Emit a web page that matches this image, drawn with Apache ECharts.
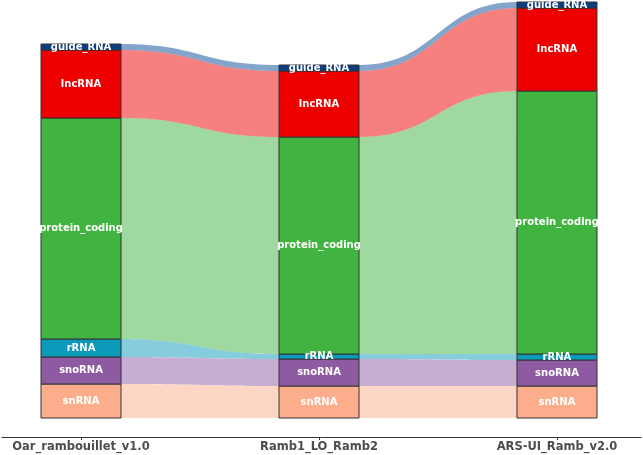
<!DOCTYPE html>
<html>
<head>
<meta charset="utf-8">
<style>html,body{margin:0;padding:0;background:#fff;}#main{width:643px;height:455px;}</style>
<script src="https://cdn.jsdelivr.net/npm/echarts@6/dist/echarts.min.js"></script>
</head>
<body>
<div id="main"></div>
<script>
// Categories (assemblies) and biotypes (stacked from bottom to top)
const categories = ['Oar_rambouillet_v1.0', 'Ramb1_LO_Ramb2', 'ARS-UI_Ramb_v2.0'];
const biotypes = ['snRNA', 'snoRNA', 'rRNA', 'protein_coding', 'lncRNA', 'guide_RNA'];
// Gene counts per biotype
const snRNA = [3400, 3200, 3200];
const snoRNA = [2700, 2700, 2600];
const rRNA = [1800, 500, 600];
const proteinCoding = [22100, 21700, 26300];
const lncRNA = [6800, 6600, 8300];
const guideRNA = [600, 600, 600];

const values = [snRNA, snoRNA, rRNA, proteinCoding, lncRNA, guideRNA];
const colors = ['#fcae8c', '#8e5ba3', '#0b9ab9', '#41b340', '#ee0000', '#0d3f80'];
const ribbonColors = ['rgba(252,174,140,0.5)', 'rgba(142,91,163,0.5)', 'rgba(11,154,185,0.5)',
  'rgba(65,179,64,0.5)', 'rgba(238,0,0,0.5)', 'rgba(30,90,160,0.55)'];

// cumulative bounds
function bounds(col, k) {
  let b = 0;
  for (let i = 0; i < k; i++) b += values[i][col];
  return [b, b + values[k][col]];
}

const BAR_W = 80;

const barData = [];
const ribbonData = [];
for (let c = 0; c < categories.length; c++) {
  for (let k = 0; k < biotypes.length; k++) {
    barData.push([c + 1, k]);
    if (c < categories.length - 1) ribbonData.push([c + 1, k]);
  }
}

const chart = echarts.init(document.getElementById('main'), null, {renderer: 'canvas'});

const option = {
  animation: false,
  grid: {left: 2, right: 2, top: 2, bottom: 37},
  xAxis: {
    type: 'value',
    min: 0.668,
    max: 3.353,
    offset: 19,
    splitLine: {show: false},
    axisLine: {show: true, onZero: false, lineStyle: {color: '#333', width: 1}},
    axisTick: {show: true, customValues: [1, 2, 3], length: 3, lineStyle: {color: '#333'}},
    axisLabel: {
      customValues: [1, 2, 3],
      formatter: v => categories[Math.round(v) - 1],
      color: '#4d4d4d',
      fontWeight: 'bold',
      fontSize: 11.5,
      fontFamily: 'DejaVu Sans',
      margin: 4
    }
  },
  yAxis: {type: 'value', min: 0, max: 41600, show: false},
  series: [
    {
      type: 'custom',
      z: 1,
      data: ribbonData,
      renderItem: function (params, api) {
        const c = api.value(0) - 1;
        const k = api.value(1);
        const b1 = bounds(c, k), b2 = bounds(c + 1, k);
        const p1b = api.coord([c + 1, b1[0]]), p1t = api.coord([c + 1, b1[1]]);
        const p2b = api.coord([c + 2, b2[0]]), p2t = api.coord([c + 2, b2[1]]);
        const x1 = p1b[0] + BAR_W / 2, x2 = p2b[0] - BAR_W / 2;
        const xm = (x1 + x2) / 2;
        const d = 'M' + x1 + ' ' + p1t[1] +
          ' C' + xm + ' ' + p1t[1] + ' ' + xm + ' ' + p2t[1] + ' ' + x2 + ' ' + p2t[1] +
          ' L' + x2 + ' ' + p2b[1] +
          ' C' + xm + ' ' + p2b[1] + ' ' + xm + ' ' + p1b[1] + ' ' + x1 + ' ' + p1b[1] + ' Z';
        return {
          type: 'path',
          shape: {pathData: d},
          style: {fill: ribbonColors[k], stroke: null}
        };
      }
    },
    {
      type: 'custom',
      z: 2,
      data: barData,
      renderItem: function (params, api) {
        const c = api.value(0) - 1;
        const k = api.value(1);
        const b = bounds(c, k);
        const pb = api.coord([c + 1, b[0]]), pt = api.coord([c + 1, b[1]]);
        return {
          type: 'rect',
          shape: {x: pb[0] - BAR_W / 2, y: pt[1], width: BAR_W, height: pb[1] - pt[1]},
          style: {fill: colors[k], stroke: '#333', lineWidth: 1}
        };
      }
    },
    {
      type: 'custom',
      z: 3,
      data: barData,
      renderItem: function (params, api) {
        const c = api.value(0) - 1;
        const k = api.value(1);
        const b = bounds(c, k);
        const p = api.coord([c + 1, (b[0] + b[1]) / 2]);
        return {
          type: 'text',
          x: p[0],
          y: p[1],
          style: {
            text: biotypes[k],
            fill: '#fff',
            fontSize: 10,
            fontWeight: 'bold',
            fontFamily: 'DejaVu Sans',
            align: 'center',
            verticalAlign: 'middle'
          }
        };
      }
    }
  ]
};
chart.setOption(option);
</script>
</body>
</html>
